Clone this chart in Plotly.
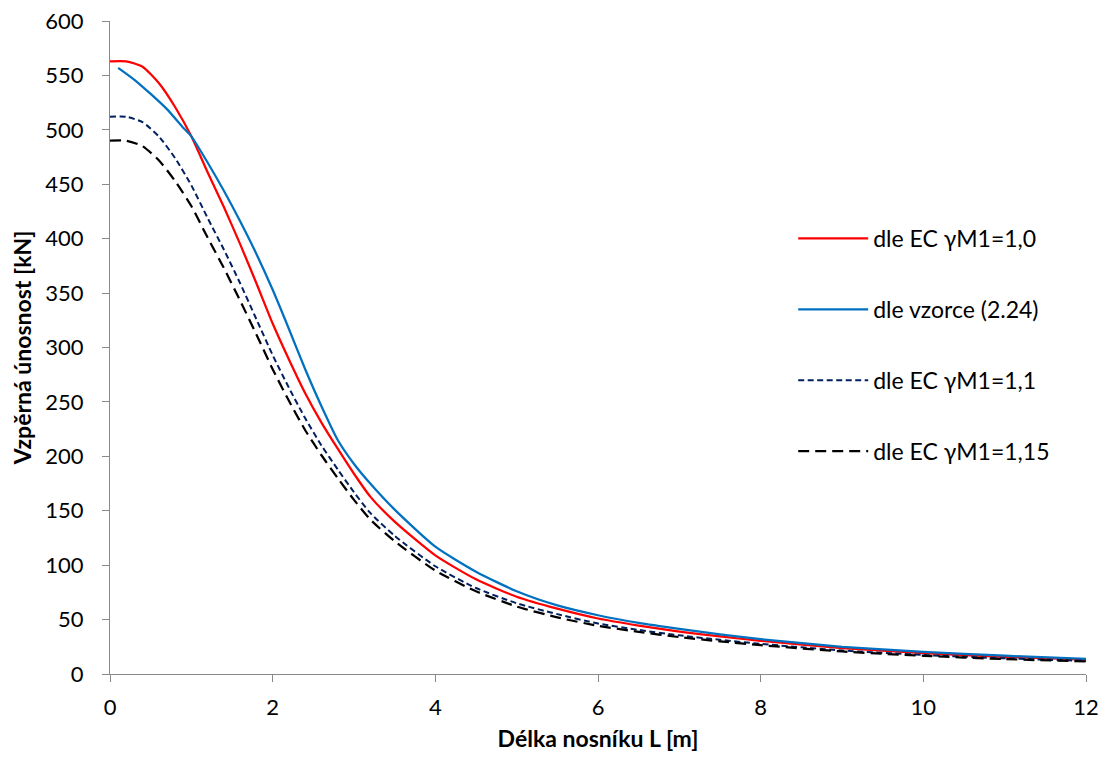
import plotly.graph_objects as go

# x positions (beam length L [m])
x_ec = [0, 0.2, 0.4, 0.6, 0.8, 1.0, 1.2, 1.4, 1.6, 1.8, 2.0, 2.2, 2.4, 2.6, 2.8,
        3.0, 3.2, 3.5, 4.0, 4.5, 5.0, 5.5, 6.0, 6.5, 7.0, 7.5, 8.0, 9.0, 10.0, 11.0, 12.0]

ec_10 = [563, 563, 558, 543, 521, 494, 461, 429, 395, 359, 322, 289, 258, 231, 207,
         184, 163, 140, 109, 87, 71, 60, 51, 44.5, 39, 34.5, 30.5, 23.8, 19.2, 15.8, 13.2]

ec_11 = [512, 512, 507, 494, 474, 449, 419, 390, 359, 326, 293, 263, 235, 210, 188,
         167, 148, 127, 99, 79, 65, 55, 46.4, 40.5, 35.5, 31.4, 27.7, 21.6, 17.5, 14.4, 12.0]

ec_115 = [490, 490, 485, 472, 453, 430, 401, 373, 343, 312, 280, 251, 224, 201, 180,
          160, 142, 122, 95, 76, 62, 52, 44.3, 38.7, 33.9, 30, 26.5, 20.7, 16.7, 13.7, 11.5]

x_vz = [0.1, 0.3, 0.5, 0.7, 0.9, 1.0, 1.2, 1.4, 1.6, 1.8, 2.0, 2.2, 2.4, 2.6, 2.8,
        3.0, 3.2, 3.5, 4.0, 4.5, 5.0, 5.5, 6.0, 6.5, 7.0, 7.5, 8.0, 9.0, 10.0, 11.0, 12.0]

vzorec = [557, 546, 533, 519, 502, 494, 470, 444, 416, 386, 353, 317, 280, 246, 215,
          193, 175, 151, 117, 94, 76, 63, 54, 47, 41.5, 36.5, 32, 25, 20.3, 16.8, 13.8]

names = ["dle EC γM1=1,0", "dle vzorce (2.24)", "dle EC γM1=1,1", "dle EC γM1=1,15"]

FONT = "Lato"
FS = 23
TFS = 22
fig = go.Figure()
fig.add_trace(go.Scatter(x=x_ec, y=ec_10, name=names[0], mode="lines", legendgroup="a",
                         line=dict(color="#FF0000", width=2.25, shape="spline", smoothing=0.6)))
fig.add_trace(go.Scatter(x=x_vz, y=vzorec, name=names[1], mode="lines", legendgroup="b",
                         line=dict(color="#0070C0", width=2.25, shape="spline", smoothing=0.6)))
fig.add_trace(go.Scatter(x=x_ec, y=ec_11, name=names[2], mode="lines", legendgroup="c",
                         line=dict(color="#002060", width=2, dash="6px,3.5px", shape="spline", smoothing=0.6)))
fig.add_trace(go.Scatter(x=x_ec, y=ec_115, name=names[3], mode="lines", legendgroup="d",
                         line=dict(color="#000000", width=2.25, dash="11px,6px", shape="spline", smoothing=0.6)))

axis_color = "#898989"
fig.update_layout(
    width=1102, height=757,
    margin=dict(l=102, r=24, t=13, b=91),
    paper_bgcolor="white", plot_bgcolor="white",
    font=dict(family=FONT, size=FS, color="black"),
    showlegend=True,
    legend=dict(x=0.70, y=0.70, xanchor="left", yanchor="top",
                font=dict(family=FONT, size=FS, color="black"),
                itemwidth=70,
                tracegroupgap=38, bgcolor="rgba(0,0,0,0)"),
    xaxis=dict(range=[0, 12], tickvals=[0, 2, 4, 6, 8, 10, 12], showgrid=False, zeroline=False,
               showline=True, linecolor=axis_color, linewidth=1.3, automargin=False,
               ticks="outside", ticklen=7, tickcolor=axis_color, tickwidth=1.3,
               ticklabelstandoff=6, ticklabeloverflow="allow",
               tickfont=dict(family=FONT, size=TFS, color="black"),
               title=dict(text="<b>Délka nosníku L [m]</b>", font=dict(family=FONT, size=FS), standoff=12)),
    yaxis=dict(range=[0, 600], tickvals=list(range(0, 601, 50)), showgrid=False, zeroline=False,
               showline=True, linecolor=axis_color, linewidth=1.3, automargin=False,
               ticks="outside", ticklen=7, tickcolor=axis_color, tickwidth=1.3,
               ticklabelstandoff=14, ticklabeloverflow="allow",
               tickfont=dict(family=FONT, size=TFS, color="black"),
               title=dict(text="<b>Vzpěrná únosnost [kN]</b>", font=dict(family=FONT, size=FS), standoff=20)),
)

fig.write_html("out.html")
